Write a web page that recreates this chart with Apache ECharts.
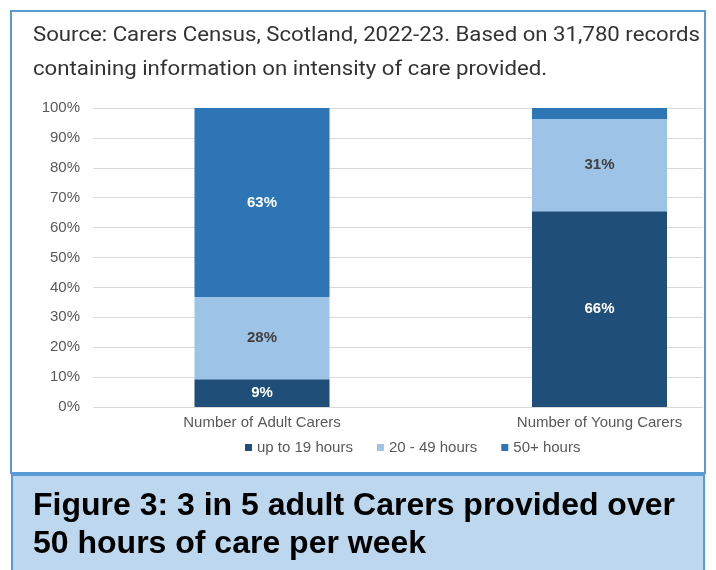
<!DOCTYPE html>
<html>
<head>
<meta charset="utf-8">
<title>Carers intensity of care</title>
<script src="https://cdn.jsdelivr.net/npm/echarts@6/dist/echarts.min.js"></script>
<style>
  html, body { margin: 0; padding: 0; background: #fff; }
  #chart { width: 716px; height: 570px; }
</style>
</head>
<body>
<div id="chart"></div>
<script>
// categories and shares (percent of carers)
const categories = ['Number of Adult Carers', 'Number of Young Carers'];
const upTo19 = [9.3, 65.5];
const from20to49 = [27.5, 30.8];
const over50 = [63.2, 3.7];
const seriesNames = ['up to 19 hours', '20 - 49 hours', '50+ hours'];
const yTicks = [0, 10, 20, 30, 40, 50, 60, 70, 80, 90, 100];

const sourceText = 'Source: Carers Census, Scotland, 2022-23. Based on 31,780 records\ncontaining information on intensity of care provided.';
const captionText = 'Figure 3: 3 in 5 adult Carers provided over\n50 hours of care per week';

const chart = echarts.init(document.getElementById('chart'));

// label shown inside each segment, rounded like the original
function segLabel(color) {
  return {
    show: true,
    position: 'inside',
    color: color,
    fontFamily: 'Liberation Sans, Arial, sans-serif',
    fontWeight: 'bold',
    fontSize: 15,
    formatter: function (p) {
      return p.value < 5 ? '' : Math.round(p.value) + '%';
    }
  };
}

function barSeries(idx, data, color, labelColor) {
  return {
    name: seriesNames[idx],
    type: 'bar',
    stack: 'total',
    xAxisIndex: 1,
    yAxisIndex: 1,
    barWidth: 135,
    clip: false,
    data: data,
    itemStyle: { color: color },
    label: segLabel(labelColor)
  };
}

const option = {
  animation: false,
  backgroundColor: '#fff',
  graphic: [
    {
      type: 'rect',
      z: -10,
      shape: { x: 11, y: 11, width: 694, height: 462 },
      style: { fill: '#fff', stroke: '#5b9bd5', lineWidth: 2 }
    },
    {
      type: 'rect',
      z: -10,
      shape: { x: 12, y: 475, width: 692, height: 100 },
      style: { fill: '#bdd7ee', stroke: '#5b9bd5', lineWidth: 2 }
    },
    {
      type: 'text',
      x: 33,
      y: 18.5,
      scaleX: 1.11,
      style: {
        text: sourceText,
        fill: '#333',
        font: '20px Roboto, sans-serif',
        lineHeight: 34
      }
    },
    {
      type: 'text',
      left: 33,
      top: 487,
      style: {
        text: captionText,
        fill: '#000',
        font: 'bold 32px "Liberation Sans", Arial, sans-serif',
        lineHeight: 38
      }
    }
  ],
  legend: {
    data: seriesNames,
    left: 240,
    top: 435,
    icon: 'rect',
    itemWidth: 7,
    itemHeight: 7,
    itemGap: 24,
    textStyle: {
      fontFamily: 'Liberation Sans, Arial, sans-serif',
      fontSize: 15,
      color: '#595959'
    }
  },
  grid: [
    // gridlines and y labels
    { left: 93, right: 13, top: 108, height: 299 },
    // bar centres: first category at the left edge, second at the right edge
    { left: 262, right: 116.5, top: 108, height: 299 }
  ],
  xAxis: [
    {
      type: 'category',
      gridIndex: 0,
      data: categories,
      show: false
    },
    {
      type: 'category',
      gridIndex: 1,
      data: categories,
      boundaryGap: false,
      axisLine: { show: false },
      axisTick: { show: false },
      splitLine: { show: false },
      axisLabel: {
        margin: 8,
        fontFamily: 'Liberation Sans, Arial, sans-serif',
        fontSize: 15,
        color: '#595959'
      }
    }
  ],
  yAxis: [
    {
      type: 'value',
      gridIndex: 0,
      min: yTicks[0],
      max: yTicks[yTicks.length - 1],
      interval: 10,
      axisLine: { show: false },
      axisTick: { show: false },
      axisLabel: {
        margin: 13,
        formatter: '{value}%',
        fontFamily: 'Liberation Sans, Arial, sans-serif',
        fontSize: 15,
        color: '#595959'
      },
      splitLine: { show: true, lineStyle: { color: '#d9d9d9', width: 1 } }
    },
    {
      type: 'value',
      gridIndex: 1,
      min: 0,
      max: 100,
      show: false
    }
  ],
  series: [
    barSeries(0, upTo19, '#1f4e79', '#fff'),
    barSeries(1, from20to49, '#9dc3e6', '#404040'),
    barSeries(2, over50, '#2e75b6', '#fff')
  ]
};

chart.setOption(option);
</script>
</body>
</html>
